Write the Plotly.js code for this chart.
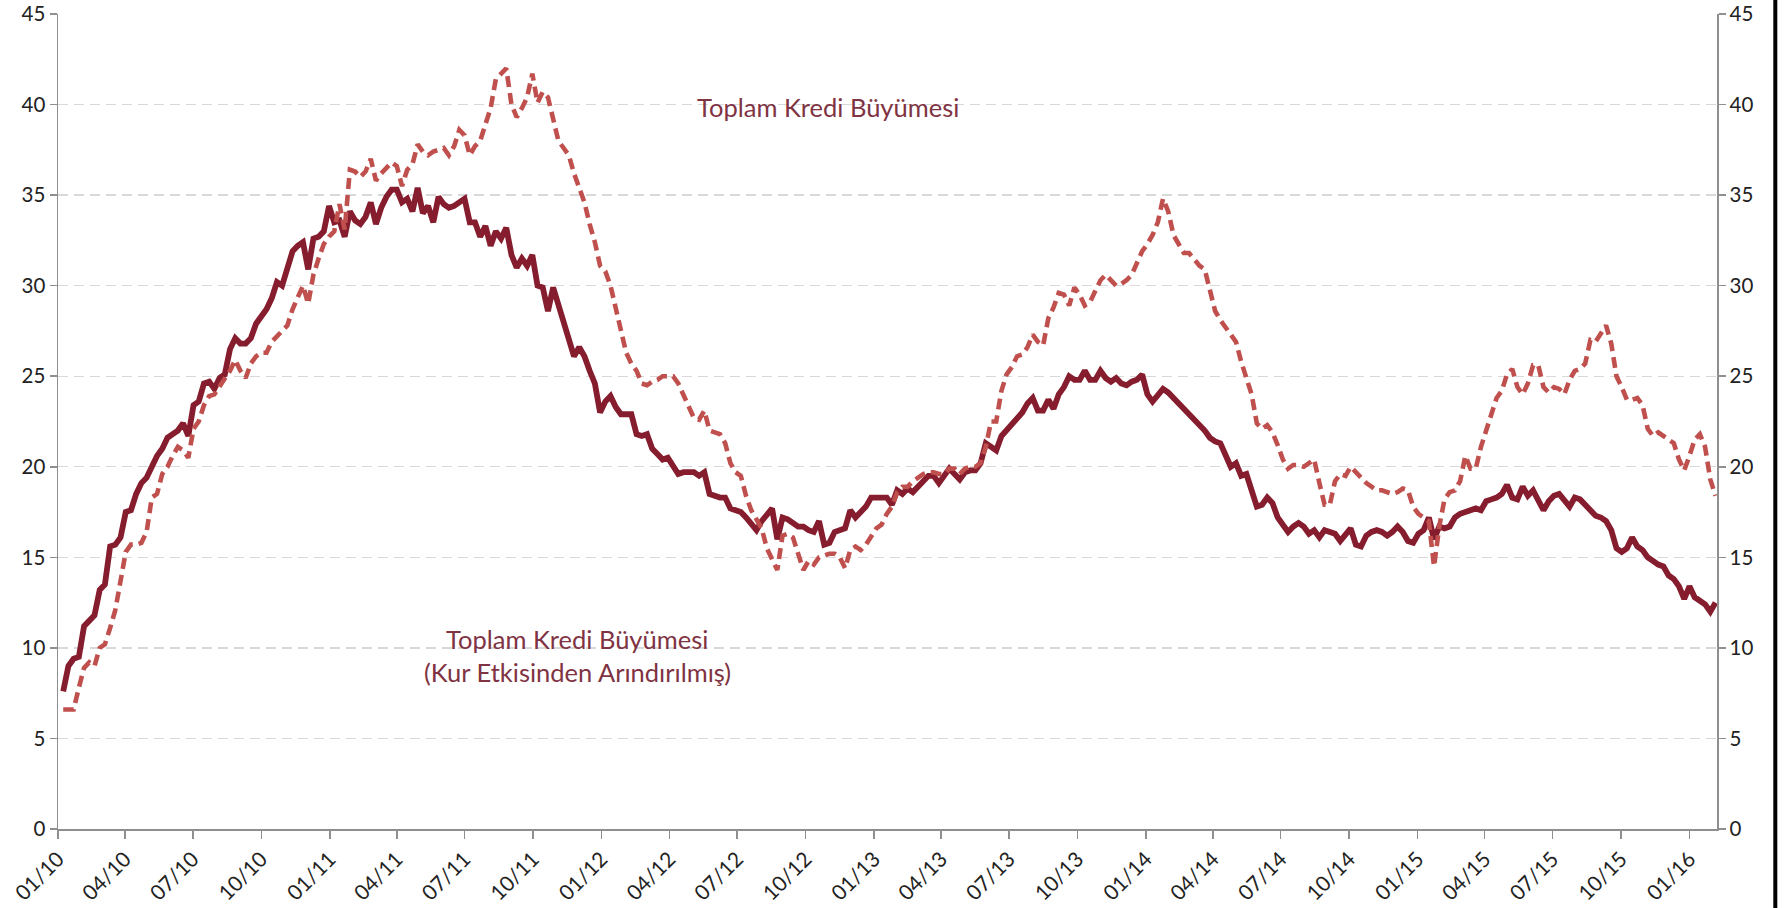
<!DOCTYPE html>
<html><head><meta charset="utf-8">
<script src="https://cdn.plot.ly/plotly-3.0.1.min.js"></script>
<style>html,body{margin:0;padding:0;background:#fff;overflow:hidden}#chart{width:1785px;height:908px}</style>
</head><body><div id="chart"></div>
<script>
// Weekly observations (Fridays) starting 2010-01-08
const startDate = '2010-01-08';

// Toplam Kredi Büyümesi (dashed)
const toplamKredi = [
6.6,6.6,6.6,7.8,8.9,9.2,9.0,10.0,10.2,11.1,
12.1,13.7,15.3,15.7,15.7,15.8,16.4,18.3,18.5,19.6,
20.0,20.6,21.1,20.9,20.5,22.1,22.5,23.4,23.9,24.0,
24.4,24.9,25.3,25.9,25.3,24.9,25.7,26.1,26.3,26.3,
26.9,27.2,27.5,27.8,28.7,29.3,30.0,29.0,30.6,31.5,
32.3,32.7,33.0,34.5,33.1,36.4,36.3,36.0,36.3,37.0,
35.8,36.2,36.5,36.8,36.6,35.5,36.4,36.7,37.8,37.4,
37.2,37.4,37.5,37.6,37.2,37.7,38.6,38.3,37.2,37.7,
38.0,39.0,39.8,41.4,41.7,42.0,40.0,39.3,39.8,40.4,
41.7,40.1,40.7,40.4,39.2,38.0,37.6,37.2,36.2,35.3,
34.6,33.4,32.4,31.1,30.8,30.0,28.8,27.6,26.3,25.7,
25.3,24.6,24.5,24.7,24.8,25.0,25.0,25.0,24.6,24.0,
23.4,22.7,22.6,23.1,22.0,21.9,21.8,21.3,20.2,19.7,
19.5,18.4,17.6,17.1,16.6,15.5,14.9,14.3,16.2,16.3,
16.1,15.2,14.3,14.8,14.6,15.0,15.1,15.2,15.2,15.0,
14.4,15.4,15.6,15.4,15.7,16.2,16.6,16.8,17.4,17.8,
18.6,18.9,18.9,19.2,19.4,19.6,19.7,19.7,19.6,19.6,
19.9,19.9,19.6,19.9,20.0,20.0,20.2,21.1,22.5,22.5,
24.2,25.1,25.5,26.1,26.2,26.6,27.3,26.9,26.7,28.2,
28.8,29.6,29.5,28.9,29.9,29.5,28.9,29.1,29.7,30.3,
30.6,30.3,30.0,30.1,30.3,30.6,31.2,31.9,32.3,32.8,
33.5,34.8,34.1,32.8,32.3,31.8,31.8,31.4,31.1,30.9,
29.8,28.6,28.1,27.7,27.3,26.9,25.8,24.8,24.0,22.4,
22.1,22.3,21.9,21.2,20.4,19.9,20.1,20.1,20.0,20.2,
20.4,19.1,17.9,17.9,19.2,19.6,19.5,20.0,19.7,19.4,
19.1,18.9,18.7,18.7,18.6,18.5,18.6,18.8,18.7,17.8,
17.4,17.2,17.0,14.5,16.7,18.2,18.6,18.7,19.2,20.6,
19.9,19.9,21.1,22.0,22.9,23.8,24.2,25.1,25.4,24.4,
24.0,24.6,25.6,25.6,24.4,24.1,24.4,24.3,24.0,24.8,
25.3,25.4,25.7,27.0,26.9,27.4,27.8,26.8,25.0,24.4,
23.7,23.7,23.8,23.4,22.1,21.7,21.9,21.7,21.5,21.3,
20.4,19.8,20.6,21.5,21.8,21.1,19.3,18.4
];

// Toplam Kredi Büyümesi (Kur Etkisinden Arındırılmış) (solid)
const kurArindirilmis = [
7.6,9.0,9.4,9.5,11.2,11.5,11.8,13.2,13.5,15.6,
15.7,16.1,17.5,17.6,18.5,19.1,19.4,20.0,20.6,21.0,
21.6,21.8,22.0,22.4,21.7,23.4,23.6,24.6,24.7,24.3,
24.9,25.1,26.5,27.1,26.8,26.8,27.1,27.9,28.3,28.7,
29.3,30.2,30.0,30.9,31.9,32.2,32.4,30.9,32.6,32.7,
33.0,34.4,33.5,33.6,32.7,34.1,33.6,33.4,33.8,34.6,
33.4,34.3,34.9,35.3,35.3,34.6,34.8,34.1,35.4,34.0,
34.4,33.5,34.9,34.5,34.3,34.4,34.6,34.8,33.5,33.5,
32.7,33.3,32.2,33.0,32.6,33.2,31.7,31.0,31.5,31.1,
31.7,30.0,29.9,28.6,29.9,28.9,28.1,27.1,26.1,26.6,
26.1,25.3,24.6,23.0,23.6,23.9,23.3,22.9,22.9,22.9,
21.8,21.7,21.8,21.0,20.7,20.4,20.5,20.1,19.6,19.7,
19.7,19.7,19.5,19.7,18.5,18.4,18.3,18.3,17.7,17.6,
17.5,17.2,16.9,16.5,17.0,17.4,17.7,16.0,17.2,17.1,
16.9,16.7,16.7,16.5,16.4,17.0,15.7,15.8,16.4,16.5,
16.6,17.6,17.2,17.5,17.8,18.3,18.3,18.3,18.3,17.9,
18.7,18.5,18.8,18.6,18.9,19.3,19.5,19.5,19.1,19.5,
19.9,19.6,19.3,19.7,19.8,19.8,20.2,21.3,21.1,20.9,
21.7,22.0,22.3,22.6,23.0,23.5,23.8,23.1,23.1,23.7,
23.2,24.0,24.4,25.0,24.8,24.8,25.3,24.8,24.8,25.3,
24.9,24.7,24.9,24.6,24.5,24.7,24.8,25.1,24.0,23.6,
24.0,24.3,24.1,23.8,23.5,23.2,23.0,22.7,22.3,22.0,
21.6,21.4,21.3,20.7,20.0,20.2,19.5,19.6,18.7,17.8,
17.9,18.3,18.0,17.2,16.8,16.4,16.7,16.9,16.7,16.3,
16.5,16.1,16.5,16.4,16.3,15.9,16.2,16.6,15.7,15.6,
16.2,16.4,16.5,16.4,16.2,16.4,16.7,16.4,15.9,15.8,
16.3,16.5,17.2,16.0,16.7,16.6,16.7,17.2,17.4,17.5,
17.6,17.7,17.6,18.1,18.2,18.3,18.5,19.0,18.3,18.2,
18.9,18.4,18.7,18.2,17.6,18.1,18.4,18.5,18.2,17.8,
18.3,18.2,17.9,17.6,17.3,17.2,17.0,16.5,15.5,15.3,
15.5,16.1,15.6,15.4,15.0,14.8,14.6,14.5,14.0,13.8,
13.4,12.7,13.4,12.8,12.6,12.4,12.0,12.5
];

const tickDates = ['2010-01-01','2010-04-01','2010-07-01','2010-10-01',
'2011-01-01','2011-04-01','2011-07-01','2011-10-01',
'2012-01-01','2012-04-01','2012-07-01','2012-10-01',
'2013-01-01','2013-04-01','2013-07-01','2013-10-01',
'2014-01-01','2014-04-01','2014-07-01','2014-10-01',
'2015-01-01','2015-04-01','2015-07-01','2015-10-01','2016-01-01'];
const tickLabels = ['01/10','04/10','07/10','10/10','01/11','04/11','07/11','10/11',
'01/12','04/12','07/12','10/12','01/13','04/13','07/13','10/13',
'01/14','04/14','07/14','10/14','01/15','04/15','07/15','10/15','01/16'];
const yTicks = [0,5,10,15,20,25,30,35,40,45];

const labelTop = 'Toplam Kredi Büyümesi';
const labelBottom1 = 'Toplam Kredi Büyümesi';
const labelBottom2 = '(Kur Etkisinden Arındırılmış)';

function weeklyDates(start, n) {
  const out = [];
  const d0 = new Date(start + 'T00:00:00Z');
  for (let i = 0; i < n; i++) {
    const d = new Date(d0.getTime() + i * 7 * 86400000);
    out.push(d.toISOString().slice(0, 10));
  }
  return out;
}
const dates = weeklyDates(startDate, kurArindirilmis.length);

const FONT = 'Lato, "Open Sans", sans-serif';
const AXIS = '#8f8f8f';
const TXT = '#222222';
const NOTE = '#7f3343';

const traces = [
  {x: dates, y: kurArindirilmis, type: 'scatter', mode: 'lines',
   line: {color: '#861d2e', width: 5.8}, hoverinfo: 'skip', yaxis: 'y'},
  {x: dates, y: toplamKredi, type: 'scatter', mode: 'lines',
   line: {color: '#c0504d', width: 4.6, dash: '11px,6px'}, hoverinfo: 'skip', yaxis: 'y2'}
];

const L = 58, R = 1716.7, T = 14, B = 829;
const px = X => (X - L) / (R - L);
const py = Y => (B - Y) / (B - T);

const layout = {
  width: 1785, height: 908,
  margin: {l: L, r: 1785 - R, t: T, b: 908 - B, pad: 0},
  paper_bgcolor: '#ffffff', plot_bgcolor: '#ffffff',
  showlegend: false,
  font: {family: FONT, size: 20, color: TXT},
  xaxis: {
    type: 'date', range: ['2010-01-01', '2016-02-07'],
    tickmode: 'array', tickvals: tickDates, ticktext: tickLabels,
    tickangle: -45, ticks: 'outside', ticklen: 8, tickwidth: 1.5, tickcolor: AXIS,
    showline: true, linecolor: AXIS, linewidth: 1.5, showgrid: false, zeroline: false,
    tickfont: {family: FONT, size: 21, color: TXT}
  },
  yaxis: {
    range: [0, 45], tickmode: 'array', tickvals: yTicks,
    ticks: 'outside', ticklen: 7, tickwidth: 1.5, tickcolor: AXIS,
    showline: true, linecolor: AXIS, linewidth: 1.5,
    showgrid: true, gridcolor: '#d9d9d9', gridwidth: 1.4, griddash: '10px,6px',
    zeroline: false, tickfont: {family: FONT, size: 20.5, color: TXT}
  },
  yaxis2: {
    range: [0, 45], overlaying: 'y', side: 'right', tickmode: 'array', tickvals: yTicks,
    ticks: 'outside', ticklen: 7, tickwidth: 1.5, tickcolor: AXIS,
    showline: true, linecolor: AXIS, linewidth: 1.5, showgrid: false, zeroline: false,
    tickfont: {family: FONT, size: 20.5, color: TXT}
  },
  annotations: [
    {xref: 'paper', yref: 'paper', x: px(828), y: py(107), text: labelTop, showarrow: false,
     xanchor: 'center', yanchor: 'middle', font: {family: FONT, size: 25.5, color: NOTE}},
    {xref: 'paper', yref: 'paper', x: px(577), y: py(639), text: labelBottom1, showarrow: false,
     xanchor: 'center', yanchor: 'middle', font: {family: FONT, size: 25.5, color: NOTE}},
    {xref: 'paper', yref: 'paper', x: px(577), y: py(672), text: labelBottom2, showarrow: false,
     xanchor: 'center', yanchor: 'middle', font: {family: FONT, size: 25.5, color: NOTE}}
  ],
  shapes: [
    {type: 'line', xref: 'paper', yref: 'paper', x0: px(1775), x1: px(1775), y0: py(920), y1: py(-10),
     line: {color: '#000000', width: 4}}
  ]
};

Plotly.newPlot('chart', traces, layout, {staticPlot: true, displayModeBar: false});
</script>
</body></html>
